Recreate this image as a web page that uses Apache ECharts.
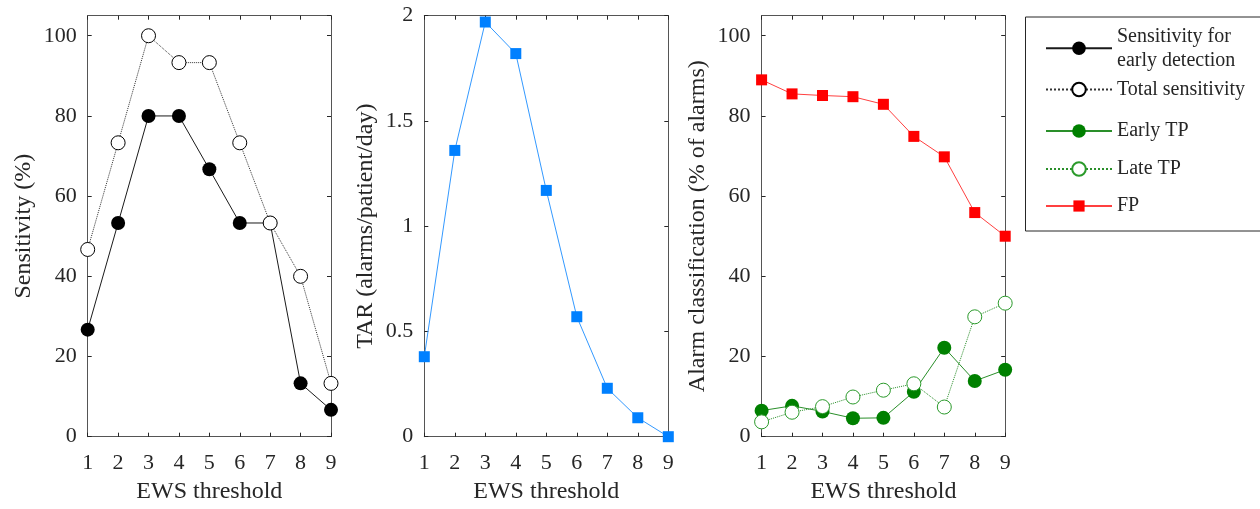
<!DOCTYPE html>
<html>
<head>
<meta charset="utf-8">
<script src="https://cdn.jsdelivr.net/npm/echarts@6/dist/echarts.min.js"></script>
<style>
  html, body { margin: 0; padding: 0; background: #ffffff; }
  #chart { width: 1260px; height: 509px; }
</style>
</head>
<body>
<div id="chart"></div>
<script>
// EWS threshold levels (x axis of every panel)
const thresholds = [1, 2, 3, 4, 5, 6, 7, 8, 9];

// Panel 1: sensitivity (%)
const sensitivityEarly = [26.7, 53.3, 80.0, 80.0, 66.7, 53.3, 53.3, 13.3, 6.7];
const sensitivityTotal = [46.7, 73.3, 100.0, 93.3, 93.3, 73.3, 53.3, 40.0, 13.3];

// Panel 2: total alarm rate (alarms/patient/day)
const totalAlarmRate = [0.38, 1.36, 1.97, 1.82, 1.17, 0.57, 0.23, 0.09, 0.00];

// Panel 3: alarm classification (% of alarms)
const earlyTP = [6.5, 7.7, 6.3, 4.6, 4.7, 11.2, 22.2, 13.9, 16.7];
const lateTP = [3.7, 6.1, 7.5, 9.9, 11.6, 13.2, 7.4, 29.9, 33.3];
const falsePositive = [89.0, 85.5, 85.1, 84.8, 82.9, 74.9, 69.8, 55.9, 50.0];

// Axis tick labels
const xTicks = ['1', '2', '3', '4', '5', '6', '7', '8', '9'];
const pctTicks = ['0', '20', '40', '60', '80', '100'];
const tarTicks = ['0', '0.5', '1', '1.5', '2'];

const FONT = "'Liberation Serif', 'Times New Roman', serif";
const TEXT = '#262626';
const AXIS = '#555555';

const NAME_EARLY = 'Sensitivity for\nearly detection';
const NAME_TOTAL = 'Total sensitivity';

const pairs = (ys) => thresholds.map((t, i) => [t, ys[i]]);

const grids = [
  { left: 87.7, top: 15.7, width: 243.3, height: 421 },
  { left: 424.3, top: 15.7, width: 244, height: 421 },
  { left: 761.6, top: 15.7, width: 243.6, height: 421 }
];

const lineStyleAxis = { color: AXIS, width: 1 };
const tickStyle = { color: '#262626', width: 1 };

function xAxes(g) {
  return [
    {
      gridIndex: g, type: 'value', min: 1, max: 9, interval: 1, position: 'bottom',
      axisLine: { show: true, onZero: false, lineStyle: lineStyleAxis },
      axisTick: { show: true, inside: true, length: 4, lineStyle: tickStyle },
      axisLabel: {
        show: true, margin: 16, fontSize: 22, fontFamily: FONT, color: TEXT,
        formatter: (v) => xTicks[Math.round(v) - 1] || ''
      },
      splitLine: { show: false },
      name: 'EWS threshold', nameLocation: 'middle', nameGap: 43, nameMoveOverlap: false,
      nameTextStyle: { fontSize: 24, fontFamily: FONT, color: TEXT }
    },
    {
      gridIndex: g, type: 'value', min: 1, max: 9, interval: 1, position: 'top',
      axisLine: { show: true, onZero: false, lineStyle: lineStyleAxis },
      axisTick: { show: true, inside: true, length: 4, lineStyle: tickStyle },
      axisLabel: { show: false }, splitLine: { show: false }
    }
  ];
}

function yAxes(g, cfg) {
  return [
    {
      gridIndex: g, type: 'value', min: 0, max: cfg.max, interval: cfg.interval, position: 'left',
      axisLine: { show: true, onZero: false, lineStyle: lineStyleAxis },
      axisTick: { show: true, inside: true, length: 4, lineStyle: tickStyle },
      axisLabel: {
        show: true, margin: 11, fontSize: 22, fontFamily: FONT, color: TEXT,
        showMaxLabel: cfg.showMax,
        formatter: (v) => {
          const k = Math.round(v / cfg.interval);
          return Math.abs(k * cfg.interval - v) < 1e-6 ? (cfg.labels[k] || '') : '';
        }
      },
      splitLine: { show: false },
      name: cfg.name, nameLocation: 'middle', nameGap: cfg.nameGap, nameMoveOverlap: false,
      nameTextStyle: { fontSize: 24, fontFamily: FONT, color: TEXT }
    },
    {
      gridIndex: g, type: 'value', min: 0, max: cfg.max, interval: cfg.interval, position: 'right',
      axisLine: { show: true, onZero: false, lineStyle: lineStyleAxis },
      axisTick: { show: true, inside: true, length: 4, lineStyle: tickStyle },
      axisLabel: { show: false }, splitLine: { show: false }
    }
  ];
}

const xAxis = [].concat(xAxes(0), xAxes(1), xAxes(2));
const yAxis = [].concat(
  yAxes(0, { max: 105, interval: 20, labels: pctTicks, showMax: false, name: 'Sensitivity (%)', nameGap: 52 }),
  yAxes(1, { max: 2, interval: 0.5, labels: tarTicks, showMax: true, name: 'TAR (alarms/patient/day)', nameGap: 47 }),
  yAxes(2, { max: 105, interval: 20, labels: pctTicks, showMax: false, name: 'Alarm classification (% of alarms)', nameGap: 52 })
);

function lineSeries(name, xi, yi, data, opt) {
  return {
    name: name, type: 'line', xAxisIndex: xi, yAxisIndex: yi, data: pairs(data),
    symbol: opt.symbol, symbolSize: opt.size, clip: false,
    itemStyle: opt.item,
    lineStyle: { color: opt.line, width: 1, type: opt.dash || 'solid' },
    emphasis: { disabled: true }
  };
}

const BLACK = '#000000';
const BLUE = '#0080ff';
const GREEN = '#008000';
const RED = '#ff0000';

const series = [
  lineSeries(NAME_EARLY, 0, 0, sensitivityEarly,
    { symbol: 'circle', size: 14, item: { color: BLACK }, line: '#1a1a1a' }),
  lineSeries(NAME_TOTAL, 0, 0, sensitivityTotal,
    { symbol: 'circle', size: 14, item: { color: '#ffffff', borderColor: BLACK, borderWidth: 1 }, line: '#333333', dash: 'dotted' }),
  lineSeries('TAR', 2, 2, totalAlarmRate,
    { symbol: 'rect', size: 11, item: { color: BLUE }, line: '#3399ff' }),
  lineSeries('Early TP', 4, 4, earlyTP,
    { symbol: 'circle', size: 14, item: { color: GREEN }, line: '#2a8f2a' }),
  lineSeries('Late TP', 4, 4, lateTP,
    { symbol: 'circle', size: 14, item: { color: '#ffffff', borderColor: '#2a9a2a', borderWidth: 1 }, line: '#2a8f2a', dash: 'dotted' }),
  lineSeries('FP', 4, 4, falsePositive,
    { symbol: 'rect', size: 11, item: { color: RED }, line: '#ff4040' })
];

// Legend rows: one legend component per row so each row sits at its own height
const legendRows = [
  { name: NAME_EARLY, center: 48.3, lines: 2, itemHeight: 17 },
  { name: NAME_TOTAL, center: 89.5, lines: 1, itemHeight: 17 },
  { name: 'Early TP', center: 131, lines: 1, itemHeight: 17 },
  { name: 'Late TP', center: 169, lines: 1, itemHeight: 17 },
  { name: 'FP', center: 206, lines: 1, itemHeight: 14 }
];
const LEGEND_LINE_H = 24;
const legend = legendRows.map((r) => ({
  data: [r.name], orient: 'vertical', left: 1045,
  top: r.center - Math.max(r.itemHeight, r.lines * LEGEND_LINE_H) / 2,
  padding: 0, itemWidth: 66, itemHeight: r.itemHeight, selectedMode: false,
  textStyle: { fontSize: 20, lineHeight: LEGEND_LINE_H, fontFamily: FONT, color: TEXT }
}));

const chart = echarts.init(document.getElementById('chart'), null, { renderer: 'canvas' });
chart.setOption({
  animation: false,
  backgroundColor: '#ffffff',
  textStyle: { fontFamily: FONT },
  grid: grids,
  xAxis: xAxis,
  yAxis: yAxis,
  legend: legend,
  series: series,
  graphic: [
    {
      type: 'rect', left: 1023, top: 14.5, silent: true,
      shape: { width: 235, height: 214 },
      style: { fill: null, stroke: '#262626', lineWidth: 1 }
    }
  ]
});
</script>
</body>
</html>
